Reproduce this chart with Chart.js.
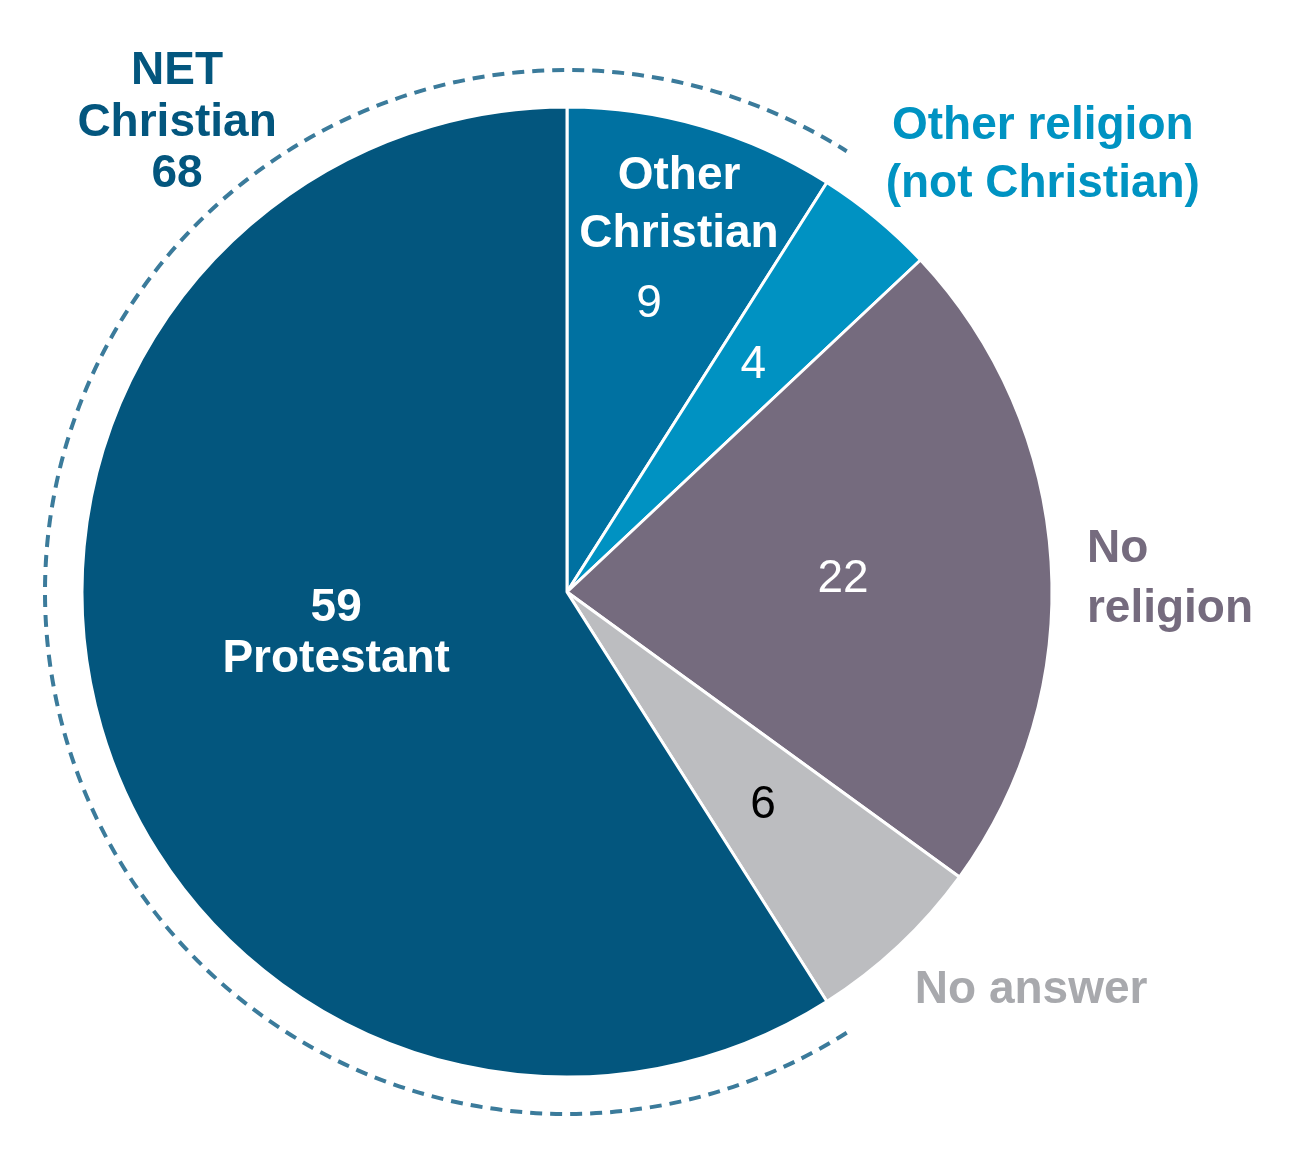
<!DOCTYPE html>
<html>
<head>
<meta charset="utf-8">
<script src="https://cdn.jsdelivr.net/npm/chart.js@4.4.1/dist/chart.umd.min.js"></script>
<style>
html,body{margin:0;padding:0;background:#fff;}
canvas{display:block;}
</style>
</head>
<body>
<canvas id="c" width="1292" height="1162"></canvas>
<script>
// Data
const categories = ["Other Christian", "Other religion (not Christian)", "No religion", "No answer", "Protestant"];
const values = [9, 4, 22, 6, 59];
const sliceColors = ["#0071A1", "#0092C2", "#756B7E", "#BCBDC0", "#03567E"];
const netChristianLabel = "NET Christian";
const netChristianValue = 68; // Protestant + Other Christian

const FONT = "'Liberation Sans', Arial, sans-serif";

function drawLines(ctx, lines, x, y, lh, font, color, align) {
  ctx.save();
  ctx.font = font;
  ctx.fillStyle = color;
  ctx.textAlign = align || 'center';
  ctx.textBaseline = 'middle';
  const y0 = y + 3 - (lines.length - 1) * lh / 2;
  lines.forEach((l, i) => ctx.fillText(l, x, y0 + i * lh));
  ctx.restore();
}

const labelPlugin = {
  id: 'labels',
  afterDraw(chart) {
    const ctx = chart.ctx;
    const arcs = chart.getDatasetMeta(0).data;
    const cx = arcs[0].x, cy = arcs[0].y, r = arcs[0].outerRadius;
    const P = (fx, fy) => [cx + fx * r, cy + fy * r];
    const bold = "bold 46px " + FONT;
    const reg = "46px " + FONT;

    // dashed arc around NET Christian (Protestant + Other Christian)
    const prot = arcs[4], oc = arcs[0];
    ctx.save();
    ctx.strokeStyle = "#3B7B9B";
    ctx.lineWidth = 4;
    ctx.setLineDash([12, 8]);
    ctx.beginPath();
    ctx.arc(cx, cy, r + 37, prot.startAngle, oc.endAngle + Math.PI * 2);
    ctx.stroke();
    ctx.restore();

    // NET Christian
    let p = P(-0.804, -0.973);
    drawLines(ctx, ["NET", "Christian", String(netChristianValue)], p[0], p[1], 51.5, bold, "#03567E");

    // Other Christian
    p = P(0.231, -0.804);
    drawLines(ctx, ["Other", "Christian"], p[0], p[1], 58, bold, "#FFFFFF");
    p = P(0.169, -0.600);
    drawLines(ctx, [String(values[0])], p[0], p[1], 0, reg, "#FFFFFF");

    // Other religion
    p = P(0.384, -0.474);
    drawLines(ctx, [String(values[1])], p[0], p[1], 0, reg, "#FFFFFF");
    p = P(0.981, -0.907);
    drawLines(ctx, ["Other religion", "(not Christian)"], p[0], p[1], 58, bold, "#0093C2");

    // No religion
    p = P(0.569, -0.033);
    drawLines(ctx, [String(values[2])], p[0], p[1], 0, reg, "#FFFFFF");
    p = P(1.072, -0.033);
    drawLines(ctx, ["No", "religion"], p[0], p[1], 60, bold, "#756B7E", 'left');

    // No answer
    p = P(0.404, 0.433);
    drawLines(ctx, [String(values[3])], p[0], p[1], 0, reg, "#000000");
    p = P(0.957, 0.816);
    drawLines(ctx, ["No answer"], p[0], p[1], 0, bold, "#A8A9AD");

    // Protestant
    p = P(-0.476, 0.080);
    drawLines(ctx, [String(values[4]), "Protestant"], p[0], p[1], 51, bold, "#FFFFFF");
  }
};

new Chart(document.getElementById('c'), {
  type: 'pie',
  data: {
    labels: categories,
    datasets: [{
      data: values,
      backgroundColor: sliceColors,
      borderColor: '#FFFFFF',
      borderWidth: 3,
      radius: 485
    }]
  },
  options: {
    responsive: false,
    devicePixelRatio: 1,
    animation: false,
    layout: { padding: { left: 0, right: 158, top: 22, bottom: 0 } },
    plugins: {
      legend: { display: false },
      tooltip: { enabled: false }
    }
  },
  plugins: [labelPlugin]
});
</script>
</body>
</html>
